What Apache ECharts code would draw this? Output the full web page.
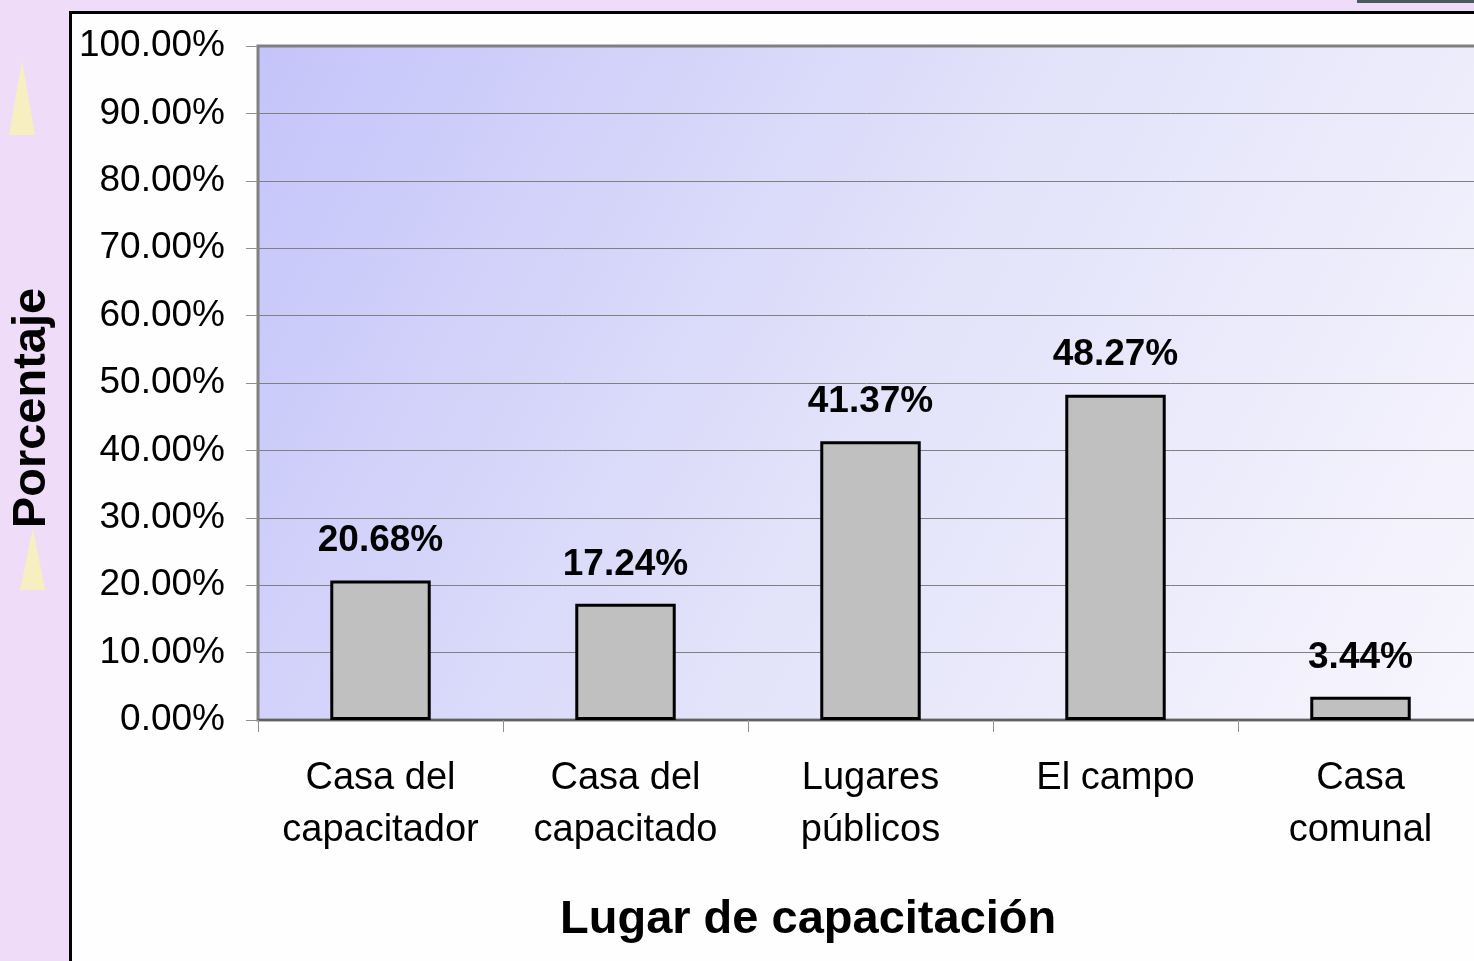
<!DOCTYPE html>
<html>
<head>
<meta charset="utf-8">
<script src="https://cdn.jsdelivr.net/npm/echarts@6/dist/echarts.min.js"></script>
<style>
  html, body { margin: 0; padding: 0; width: 1474px; height: 961px; overflow: hidden; background: #eedcf8; }
  #frame { position: absolute; left: 69px; top: 11px; width: 1500px; height: 1000px; border: 3px solid #000; background: #fefefe; }
  #topbar { position: absolute; left: 1357px; top: 0; width: 117px; height: 3px; background: #4a5a5a; }
  #chart { position: absolute; left: 0; top: 0; width: 1474px; height: 961px; }
</style>
</head>
<body>
<div id="topbar"></div>
<div id="frame"></div>
<div id="chart"></div>
<script>
const categories = ['Casa del\ncapacitador', 'Casa del\ncapacitado', 'Lugares\npúblicos', 'El campo', 'Casa\ncomunal'];
const values = [20.68, 17.24, 41.37, 48.27, 3.44];
const yTicks = { min: 0, max: 100, interval: 10 };
const xAxisTitle = 'Lugar de capacitación';
const yAxisTitle = 'Porcentaje';

const font = '"Liberation Sans", Arial, sans-serif';
const chart = echarts.init(document.getElementById('chart'), null, { renderer: 'canvas' });

chart.setOption({
  backgroundColor: 'transparent',
  animation: false,
  grid: {
    left: 258, top: 46, width: 1225, height: 674,
    outerBoundsMode: 'none',
    containLabel: false,
    show: true,
    borderColor: '#808080',
    borderWidth: 3,
    backgroundColor: new echarts.graphic.LinearGradient(0, 0, 1, 1, [
      { offset: 0, color: '#c4c4fa' },
      { offset: 0.5, color: '#e2e2fa' },
      { offset: 1, color: '#f8f6fd' }
    ])
  },
  xAxis: {
    type: 'category',
    data: categories,
    axisLine: { show: true, lineStyle: { color: '#606060', width: 2 } },
    axisTick: { show: true, inside: false, length: 12, alignWithLabel: false, lineStyle: { color: '#909090', width: 1 } },
    axisLabel: { color: '#000', fontFamily: font, fontSize: 38, lineHeight: 52, margin: 33, interval: 0 },
    splitLine: { show: false }
  },
  yAxis: {
    type: 'value',
    min: yTicks.min, max: yTicks.max, interval: yTicks.interval,
    axisLine: { show: false },
    axisTick: { show: true, length: 12, lineStyle: { color: '#909090', width: 1 } },
    axisLabel: { color: '#000', fontFamily: font, fontSize: 37, margin: 33, formatter: v => v.toFixed(2) + '%' },
    splitLine: { show: true, lineStyle: { color: '#808080', width: 1 } }
  },
  series: [{
    type: 'bar',
    data: values,
    barWidth: '41%',
    itemStyle: { color: '#c0c0c0', borderColor: '#000', borderWidth: 3 },
    label: {
      show: true, position: 'top', distance: 21,
      color: '#000', fontFamily: font, fontSize: 37, fontWeight: 'bold',
      formatter: p => p.value.toFixed(2) + '%'
    }
  }],
  graphic: [
    { type: 'polygon', shape: { points: [[22, 60], [9, 135], [35, 135]] }, style: { fill: '#fbf7a8', opacity: 0.7 }, z: -5 },
    { type: 'polygon', shape: { points: [[33, 528], [20, 590], [45, 590]] }, style: { fill: '#fbf7a8', opacity: 0.7 }, z: -5 },
    { type: 'text', left: 560, top: 897, style: { text: xAxisTitle, fill: '#000', font: 'bold 47px ' + font } },
    { type: 'text', x: 32, y: 408, rotation: Math.PI / 2, style: { text: yAxisTitle, fill: '#000', font: 'bold 47px ' + font, align: 'center', verticalAlign: 'middle' } }
  ]
});
</script>
</body>
</html>
